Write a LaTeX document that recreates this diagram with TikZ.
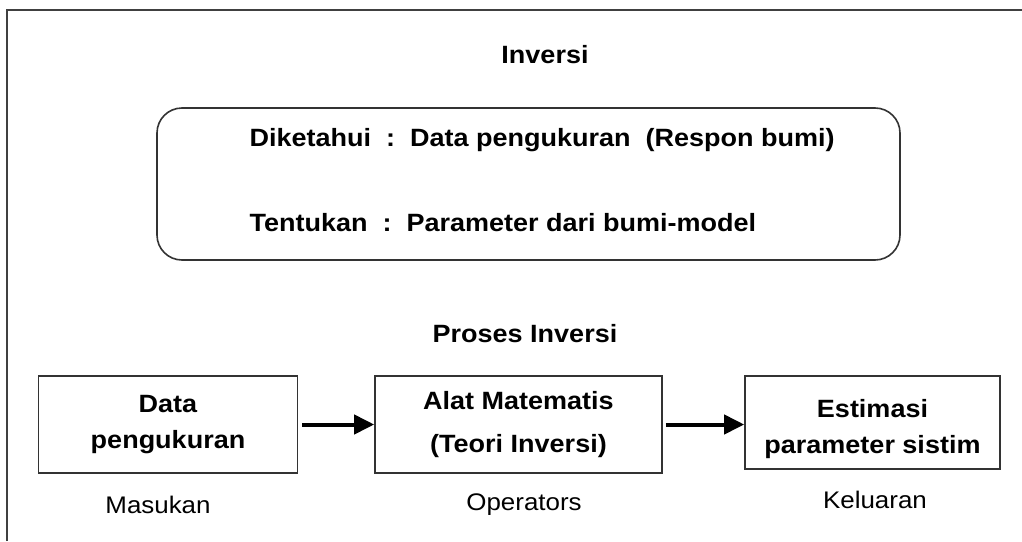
\documentclass[tikz,border=0pt]{standalone}
\usepackage{fontspec}
\setmainfont[FakeStretch=1.08]{Liberation Sans}
\usepackage{tikz}
\usetikzlibrary{arrows.meta,positioning}

\begin{document}
\begin{tikzpicture}[x=1pt,y=-1pt,
  box/.style={draw=black!80,line width=1.6pt,align=center,inner sep=0pt,font=\fontsize{25}{36}\selectfont\bfseries},
  judul/.style={font=\fontsize{25}{30}\selectfont\bfseries},
  capt/.style={font=\fontsize{24}{30}\selectfont},
  flow/.style={line width=4pt,-{Triangle[length=20pt,width=19pt]}}]
\useasboundingbox (0,0) rectangle (1022,541);
\draw[black!75,line width=1.8pt] (7,541) -- (7,10) -- (1022,10);
\node[judul] (inv) at (545,55) {Inversi};
\node[draw=black!80,line width=1.6pt,rounded corners=25pt,minimum width=743,minimum height=152] (kotak) at (528.5,184) {};
\node[judul,anchor=west] (tahu) at (246,140) {Diketahui\ \ :\ \ Data pengukuran\ \ (Respon bumi)};
\node[judul,anchor=west] (tentu) at (246,223) {Tentukan\ \ :\ \ Parameter dari bumi-model};
\node[judul] (proses) at (525,334) {Proses Inversi};
\node[box,minimum width=259,minimum height=97] (data) at (168,424.5) {Data\\pengukuran};
\node[box,minimum width=287,minimum height=97] (alat) at (518.5,424.5) {Alat Matematis\\[7pt](Teori Inversi)};
\node[box,minimum width=255,minimum height=93] (estim) at (872.5,422.5) {\rule{0pt}{32pt}Estimasi\\parameter sistim};
\draw[flow,shorten <=4pt] (data.east) -- (alat.west);
\draw[flow,shorten <=3pt] (alat.east) -- (alat.east -| estim.west);
\node[capt] (masuk) at (158,505) {Masukan};
\node[capt] (oper) at (524,505) {Operators};
\node[capt] (keluar) at (875,500) {Keluaran};
\end{tikzpicture}
\end{document}
